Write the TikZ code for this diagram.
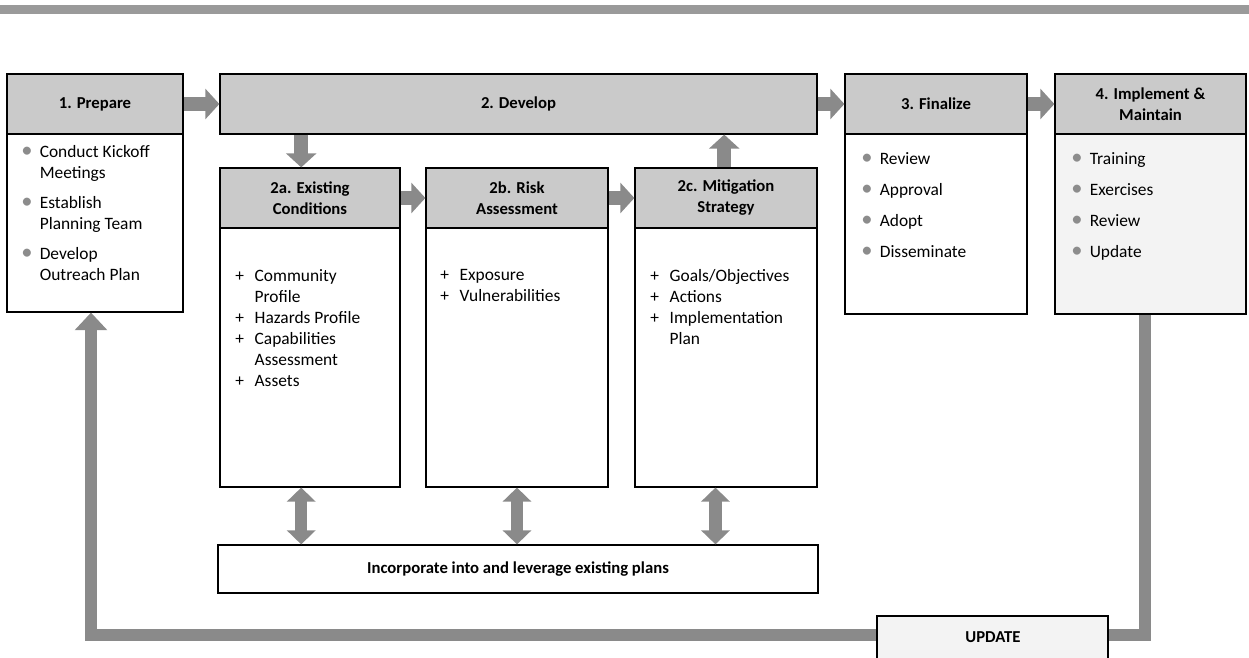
\documentclass[tikz,border=0pt]{standalone}
\usepackage{fontspec}
\setmainfont{Carlito}
\usepackage{tikz}
\usetikzlibrary{arrows.meta,fit}
\usepackage{xcolor}
\definecolor{headgray}{HTML}{CACACA}
\definecolor{flowgray}{HTML}{8A8A8A}
\definecolor{bargray}{HTML}{9A9A9A}
\definecolor{bulgray}{HTML}{8C8C8C}
\definecolor{palegray}{HTML}{F3F3F3}
\newcommand{\bul}{\makebox[10.5pt][l]{\textcolor{bulgray}{\scalebox{1.3}{\textbullet}}}}
\newcommand{\pls}{\makebox[11pt][l]{+}}
\newcommand{\ind}[1]{\hspace*{#1}}

\begin{document}
\begin{tikzpicture}[x=0.02cm,y=-0.02cm,
    font=\fontsize{9.9}{11.9}\selectfont,
    box/.style={draw,line width=0.7pt,inner sep=0pt},
    head/.style={box,fill=headgray},
    body/.style={box,fill=white},
    title/.style={font=\fontsize{9.5}{11.9}\selectfont\bfseries,align=center,inner sep=0pt},
    list/.style={inner sep=0pt,anchor=base west},
    flow/.style={flowgray,line width=8pt,-{Triangle[width=17pt,length=8pt]}},
    both/.style={flowgray,line width=7pt,{Triangle[width=16pt,length=8pt]}-{Triangle[width=16pt,length=8pt]}}]
  \useasboundingbox (0,0) rectangle (1249,658);
  \fill[bargray] (0,5) rectangle (1249,14);

  % four phases
  \node[head,fit={(7,74)(183,134)}] (prepH) {};
  \node[body,fit={(7,134)(183,312)}] (prepB) {};
  \node[head,fit={(220,74)(817,134)}] (devH) {};
  \node[head,fit={(845,74)(1027,134)}] (finH) {};
  \node[body,fit={(845,134)(1027,314)}] (finB) {};
  \node[head,fit={(1055,74)(1246,134)}] (implH) {};
  \node[body,fill=palegray,fit={(1055,134)(1246,314)}] (implB) {};
  \node[title] (prepT) at (prepH) {1. Prepare};
  \node[title] (devT) at (devH) {2. Develop};
  \node[title] (finT) at (finH) {3. Finalize};
  \node[title] (implT) at (implH) {4. Implement \&\\Maintain};

  % sub-steps of develop
  \node[head,fit={(220,168)(400,228)}] (existH) {};
  \node[body,fit={(220,228)(400,487)}] (existB) {};
  \node[head,fit={(426,168)(608,228)}] (riskH) {};
  \node[body,fit={(426,228)(608,487)}] (riskB) {};
  \node[head,fit={(635,168)(817,228)}] (mitH) {};
  \node[body,fit={(635,228)(817,487)}] (mitB) {};
  \node[title] (existT) at (existH) {2a. Existing\\Conditions};
  \node[title] (riskT) at (riskH) {2b. Risk\\Assessment};
  \node[title] (mitT) at (mitH) {2c. Mitigation\\Strategy};
  \node[body,fit={(218,545)(818,593)}] (plans) {};
  \node[title] (plansT) at (plans) {Incorporate into and leverage existing plans};

  % item lists
  \node[list] (prepL) at (21,158) {\begin{tabular}[t]{@{}l@{}}
    \bul Conduct Kickoff\\ \ind{10.5pt}Meetings\\[5.2pt]
    \bul Establish\\ \ind{10.5pt}Planning Team\\[5.2pt]
    \bul Develop\\ \ind{10.5pt}Outreach Plan\end{tabular}};
  \node[list] (finL) at (861,165) {\begin{tabular}[t]{@{}l@{}}
    \bul Review\\[5.6pt] \bul Approval\\[5.6pt] \bul Adopt\\[5.6pt] \bul Disseminate\end{tabular}};
  \node[list] (implL) at (1071,165) {\begin{tabular}[t]{@{}l@{}}
    \bul Training\\[5.6pt] \bul Exercises\\[5.6pt] \bul Review\\[5.6pt] \bul Update\end{tabular}};
  \node[list] (existL) at (235,282) {\begin{tabular}[t]{@{}l@{}}
    \pls Community\\ \ind{11pt}Profile\\ \pls Hazards Profile\\
    \pls Capabilities\\ \ind{11pt}Assessment\\ \pls Assets\end{tabular}};
  \node[list] (riskL) at (440,281) {\begin{tabular}[t]{@{}l@{}}
    \pls Exposure\\ \pls Vulnerabilities\end{tabular}};
  \node[list] (mitL) at (650,282) {\begin{tabular}[t]{@{}l@{}}
    \pls Goals/Objectives\\ \pls Actions\\ \pls Implementation\\ \ind{11pt}Plan\end{tabular}};

  % arrows between steps
  \draw[flow] (prepH) -- (devH.west |- prepH);
  \draw[flow] (devH.east |- finH) -- (finH);
  \draw[flow] (finH) -- (implH);
  \draw[flow] ([xshift=-5]existH.north |- devH.south) -- ([xshift=-5]existH.north);
  \draw[flow] (existH) -- (riskH);
  \draw[flow] (riskH) -- (mitH);
  \draw[flow] ([xshift=-1]mitH.north) -- ([xshift=-1]mitH.north |- devH.south);
  \draw[both] ([xshift=-5]existB.south) -- ([xshift=-5]existB.south |- plans.north);
  \draw[both] (riskB.south) -- (riskB.south |- plans.north);
  \draw[both] ([xshift=-6]mitB.south) -- ([xshift=-6]mitB.south |- plans.north);

  % update loop
  \coordinate (loopL) at (91,635);
  \draw[flowgray,line width=7pt,line join=miter,-{Triangle[width=18pt,length=10pt]}]
    ([xshift=-3]implB.south) |- (loopL) -- (loopL |- prepB.south);
  \node[box,fill=palegray,fit={(877,616)(1108,662)}] (upd) {};
  \node[title] (updT) at (993,637) {UPDATE};
\end{tikzpicture}
\end{document}
